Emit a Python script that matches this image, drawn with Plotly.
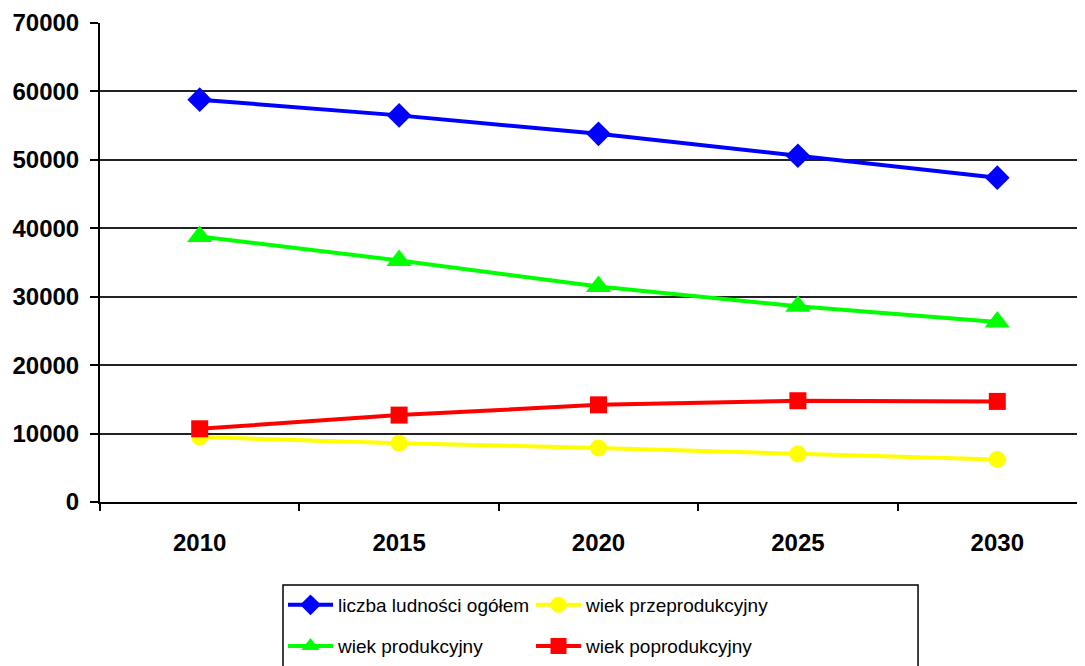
import plotly.graph_objects as go

years = ["2010", "2015", "2020", "2025", "2030"]
total = [58800, 56500, 53800, 50600, 47400]
pre = [9500, 8600, 7900, 7000, 6200]
working = [38800, 35300, 31500, 28600, 26300]
post = [10700, 12700, 14200, 14800, 14700]

names = ["liczba ludności ogółem", "wiek przeprodukcyjny", "wiek produkcyjny", "wiek poprodukcyjny"]
series = [total, pre, working, post]
colors = ["#0000FF", "#FFFF00", "#00FF00", "#FF0000"]
symbols = ["diamond", "circle", "triangle-up", "square"]
sizes = [19, 17, 22, 17]
legends = ["legend", "legend", "legend2", "legend2"]

fig = go.Figure()
for n, s, c, sym, sz, lg in zip(names, series, colors, symbols, sizes, legends):
    fig.add_trace(go.Scatter(
        x=years, y=s, name=n, mode="lines+markers",
        line=dict(color=c, width=4),
        marker=dict(symbol=sym, size=sz, color=c),
        legend=lg,
    ))

axis_font = dict(family="Liberation Sans", size=24, color="black", weight="bold")
leg_font = dict(family="Liberation Sans", size=19, color="black")
leg_common = dict(
    orientation="h", xanchor="left", yanchor="top",
    borderwidth=0, bgcolor="rgba(0,0,0,0)",
    font=leg_font, entrywidth=188, entrywidthmode="pixels", itemwidth=45,
)
fig.update_layout(
    width=1085, height=666,
    margin=dict(l=92, r=0, t=15, b=172, autoexpand=False),
    paper_bgcolor="white", plot_bgcolor="white",
    font=dict(family="Liberation Sans", color="black"),
    xaxis=dict(
        type="category", range=[-0.5, 4.48], automargin=False,
        showline=True, linecolor="black", linewidth=2,
        ticks="outside", tickson="boundaries", ticklen=7, tickwidth=2, tickcolor="black",
        tickfont=axis_font, ticklabelstandoff=18, showgrid=False,
    ),
    yaxis=dict(
        range=[0, 70000], dtick=10000, tickformat="d", automargin=False,
        showline=True, linecolor="black", linewidth=2,
        ticks="outside", ticklen=8, tickwidth=2, tickcolor="black",
        tickfont=axis_font, ticklabelstandoff=6, showgrid=True, gridcolor="#222222", gridwidth=1.5,
        zeroline=False,
    ),
    legend=dict(x=0.1843, y=-0.1753, **leg_common),
    legend2=dict(x=0.1843, y=-0.2614, **leg_common),
    showlegend=True,
    shapes=[dict(type="rect", xref="paper", yref="paper",
                 x0=0.1843, x1=0.8238, y0=-0.1733, y1=-0.37,
                 line=dict(color="black", width=1.5), fillcolor="rgba(0,0,0,0)")],
)

fig.write_html("out.html")
